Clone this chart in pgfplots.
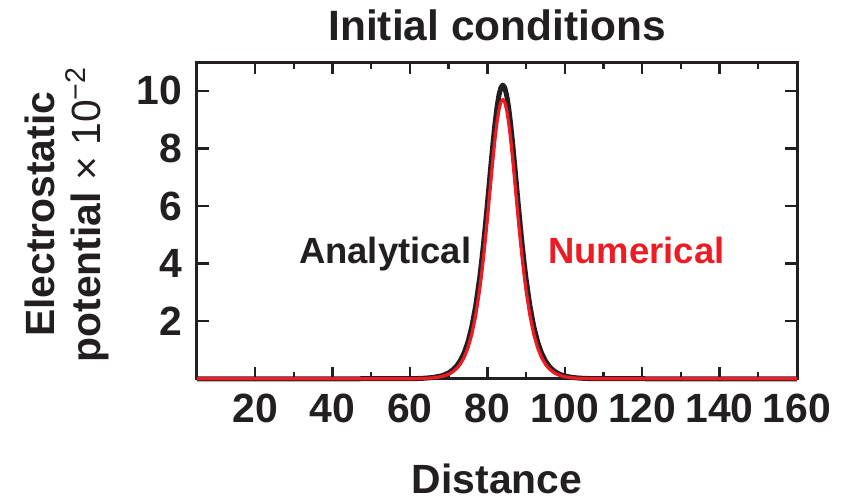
\documentclass[border=0pt]{standalone}
\usepackage{fontspec}
\setmainfont{Liberation Sans}
\usepackage{pgfplots}
\pgfplotsset{compat=1.18}
\usepackage{pgfplotstable}
\usetikzlibrary{calc}
\definecolor{ink}{RGB}{35,31,32}
\definecolor{numred}{RGB}{237,28,36}

% x, analytical, numerical
\pgfplotstableread{
x     an      nu
5     0       0
40    0       0
60    0.005   0.003
62    0.010   0.007
64    0.022   0.015
66    0.046   0.033
68    0.097   0.073
69    0.141   0.108
70    0.205   0.159
71    0.298   0.234
72    0.431   0.345
73    0.623   0.506
74    0.895   0.739
75    1.280   1.074
76    1.812   1.547
77    2.533   2.201
78    3.479   3.076
78.5  4.042   3.606
79    4.663   4.197
79.5  5.335   4.843
80    6.049   5.536
80.5  6.785   6.259
81    7.521   6.989
81.5  8.229   7.697
82    8.875   8.349
82.5  9.425   8.907
83    9.845   9.336
83.5  10.110  9.607
84    10.200  9.700
84.5  10.110  9.607
85    9.845   9.336
85.5  9.425   8.907
86    8.875   8.349
86.5  8.229   7.697
87    7.521   6.989
87.5  6.785   6.259
88    6.049   5.536
88.5  5.335   4.843
89    4.663   4.197
89.5  4.042   3.606
90    3.479   3.076
91    2.533   2.201
92    1.812   1.547
93    1.280   1.074
94    0.895   0.739
95    0.623   0.506
96    0.431   0.345
97    0.298   0.234
98    0.205   0.159
99    0.141   0.108
100   0.097   0.073
102   0.046   0.033
104   0.022   0.015
106   0.010   0.007
108   0.005   0.003
128   0       0
160   0       0
}\profile

\newcommand{\bigfont}{\fontsize{20.5}{23}\selectfont\bfseries}
\newcommand{\titlefont}{\fontsize{21.3}{24}\selectfont\bfseries}
\newcommand{\notefont}{\fontsize{18.3}{22}\selectfont\bfseries}

\begin{document}
\begin{tikzpicture}[font=\bigfont, text=ink]
\begin{axis}[name=ax, scale only axis, width=300bp, height=158.4bp,
  xmin=5, xmax=160, ymin=0, ymax=11,
  xtick={20,40,...,160}, minor x tick num=1, ytick={2,4,...,10},
  tick align=inside, major tick length=6bp, minor tick length=3.5bp,
  axis line style={ink, line width=1.5bp}, tick style={ink, line width=1.2bp},
  /pgf/number format/assume math mode=true,
  every tick label/.append style={font=\bigfont, text=ink},
  xticklabel style={yshift=-4bp}, yticklabel style={xshift=-4bp},
  clip=false]
  \addplot[ink, line width=2.5bp, line join=round] table[x=x, y=an] {\profile};
  \addplot[numred, line width=1.6bp, line join=round] table[x=x, y=nu] {\profile};
  \node[font=\notefont, text=ink, anchor=base] at (axis cs:53.6,4.0) {Analytical};
  \node[font=\notefont, text=numred, anchor=base] at (axis cs:118.5,4.0) {Numerical};
\end{axis}
\pgfresetboundingbox
\path[use as bounding box] ($(ax.south west)+(-98.5bp,-61.6bp)$) rectangle ($(ax.north east)+(25.5bp,31bp)$);
\node[anchor=base, font=\titlefont] at ($(ax.north)+(0,10.5bp)$) {Initial conditions};
\node[anchor=base] at ($(ax.south)+(0,-57.5bp)$) {Distance};
\node[rotate=90, align=center, anchor=center] at ($(ax.west)+(-65bp,3bp)$)
  {Electrostatic\\potential {\mdseries × 10\textsuperscript{−2}}};
\end{tikzpicture}
\end{document}
